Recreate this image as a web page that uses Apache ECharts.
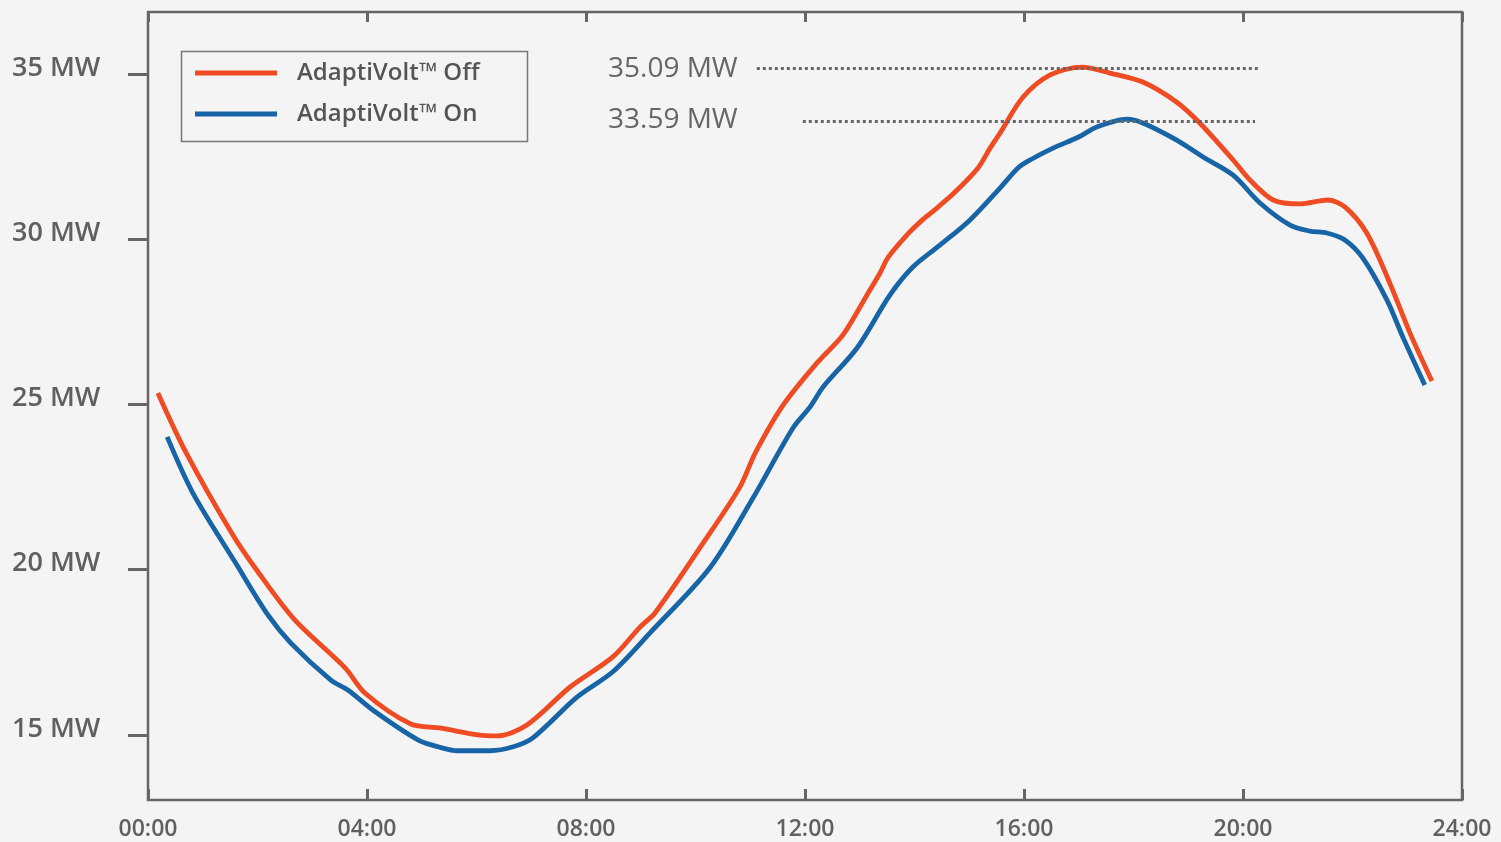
<!DOCTYPE html>
<html>
<head>
<meta charset="utf-8">
<script src="https://cdn.jsdelivr.net/npm/echarts@6/dist/echarts.min.js"></script>
<style>
html,body{margin:0;padding:0;background:#f4f4f4;}
#c{width:1501px;height:842px;}
</style>
</head>
<body>
<div id="c"></div>
<script>
// Hours of day (x) and load in MW (y)
const offHours = [0.18,0.69,1.55,2.01,2.68,3.60,3.96,4.80,5.33,6.03,6.37,6.92,7.71,8.49,8.99,9.26,10.14,10.81,11.09,11.60,12.22,12.69,13.13,13.37,13.52,13.86,14.14,14.37,14.74,15.16,15.38,15.56,15.98,16.47,17.06,17.57,18.17,18.79,19.21,19.82,20.13,20.55,21.04,21.55,21.86,22.26,22.68,23.05,23.45];
const offValues = [25.35,23.56,21.05,19.93,18.48,17.03,16.27,15.33,15.21,15.00,14.97,15.30,16.45,17.36,18.27,18.69,20.81,22.50,23.53,24.98,26.26,27.10,28.31,28.98,29.46,30.13,30.58,30.89,31.43,32.16,32.76,33.21,34.30,34.97,35.21,35.03,34.76,34.15,33.52,32.40,31.79,31.19,31.07,31.19,30.98,30.19,28.68,27.16,25.71];
const onHours = [0.35,0.82,1.59,2.19,2.61,3.34,3.65,4.15,4.93,5.30,5.66,6.25,6.67,7.03,7.84,8.49,9.17,10.26,11.05,11.78,12.09,12.33,12.95,13.55,13.97,14.47,15.01,15.56,15.89,16.11,16.53,16.99,17.33,17.88,18.17,18.79,19.27,19.82,20.31,20.86,21.22,21.53,21.86,22.19,22.63,22.92,23.32];
const onValues = [24.02,22.32,20.23,18.63,17.78,16.66,16.36,15.70,14.85,14.64,14.52,14.52,14.64,14.91,16.15,16.91,18.09,20.05,22.17,24.29,24.92,25.53,26.71,28.31,29.16,29.83,30.58,31.55,32.16,32.40,32.76,33.09,33.40,33.64,33.52,33.00,32.49,31.94,31.10,30.43,30.25,30.19,29.98,29.43,28.16,27.04,25.59];

const seriesNames = ['AdaptiVolt™ Off', 'AdaptiVolt™ On'];
const xTickLabels = ['00:00','04:00','08:00','12:00','16:00','20:00','24:00'];
const yTicks = [15, 20, 25, 30, 35];
const peakLabels = ['35.09 MW', '33.59 MW'];
const peakLevels = [35.18, 33.56];
const peakSpans = [[11.12, 20.27], [11.96, 20.22]];

const ORANGE = '#f04b22';
const BLUE = '#1765a6';
const GREY = '#666666';
const FONT = '"Open Sans", "DejaVu Sans", sans-serif';

function zip(xs, ys){ return xs.map((x,i)=>[x, ys[i]]); }

const chart = echarts.init(document.getElementById('c'), null, {renderer:'canvas'});

const tickFmt = v => xTickLabels[Math.round(v/4)] || '';

function peakLine(i){
  return {
    silent: true,
    symbol: ['none','none'],
    label: {show:false},
    lineStyle: {color: GREY, width: 3, type: [3,3]},
    data: [[{coord:[peakSpans[i][0], peakLevels[i]]},{coord:[peakSpans[i][1], peakLevels[i]]}]]
  };
}

chart.setOption({
  backgroundColor: '#f4f4f4',
  animation: false,
  grid: {left:148, right:39, top:12, bottom:42, show:true, borderColor:GREY, borderWidth:2.5, backgroundColor:'transparent'},
  legend: {
    orient:'vertical', left:195, top:60, padding:0, itemGap:15,
    icon:'rect', itemWidth:82, itemHeight:5,
    textStyle:{fontFamily:FONT, fontSize:24, fontWeight:600, color:'#555', lineHeight:26, padding:[0,0,0,15]},
    data: seriesNames
  },
  graphic: [
    {type:'rect', left:179, top:49, shape:{width:346, height:90}, style:{fill:'none', stroke:'#777', lineWidth:1.5}},
    {type:'text', left:608, top:55, style:{text:peakLabels[0], font:'28px "Open Sans", sans-serif', fill:GREY}},
    {type:'text', left:608, top:106, style:{text:peakLabels[1], font:'28px "Open Sans", sans-serif', fill:GREY}}
  ],
  xAxis: [
    {type:'value', min:0, max:24, interval:4, position:'bottom',
     axisLine:{show:false}, splitLine:{show:false},
     axisTick:{show:true, inside:true, length:11, lineStyle:{color:GREY, width:3}},
     axisLabel:{formatter:tickFmt, margin:18, fontFamily:FONT, fontSize:23, fontWeight:600, color:'#606060'}},
    {type:'value', min:0, max:24, interval:4, position:'top',
     axisLine:{show:false}, splitLine:{show:false},
     axisTick:{show:true, inside:true, length:10, lineStyle:{color:GREY, width:3}},
     axisLabel:{show:false}}
  ],
  yAxis: [
    {type:'value', min:13.03, max:36.88, position:'left',
     axisLine:{show:false}, splitLine:{show:false},
     axisTick:{show:true, inside:false, length:10, customValues:yTicks, lineStyle:{color:GREY, width:3}},
     axisLabel:{customValues:yTicks, formatter: v => v + ' MW', align:'left', margin:136, verticalAlign:'bottom', lineHeight:12,
       fontFamily:FONT, fontSize:27, fontWeight:600, color:'#606060'}},
    {type:'value', min:13.03, max:36.88, position:'right',
     axisLine:{show:false}, splitLine:{show:false},
     axisTick:{show:true, inside:true, length:20, customValues:yTicks, lineStyle:{color:GREY, width:3}},
     axisLabel:{show:false}}
  ],
  series: [
    {name:seriesNames[0], type:'line', data:zip(offHours, offValues), showSymbol:false, symbol:'none', smooth:0.3,
     lineStyle:{color:ORANGE, width:4.8}, itemStyle:{color:ORANGE}, z:3, markLine:peakLine(0)},
    {name:seriesNames[1], type:'line', data:zip(onHours, onValues), showSymbol:false, symbol:'none', smooth:0.3,
     lineStyle:{color:BLUE, width:4.8}, itemStyle:{color:BLUE}, z:2, markLine:peakLine(1)}
  ]
});
</script>
</body>
</html>
